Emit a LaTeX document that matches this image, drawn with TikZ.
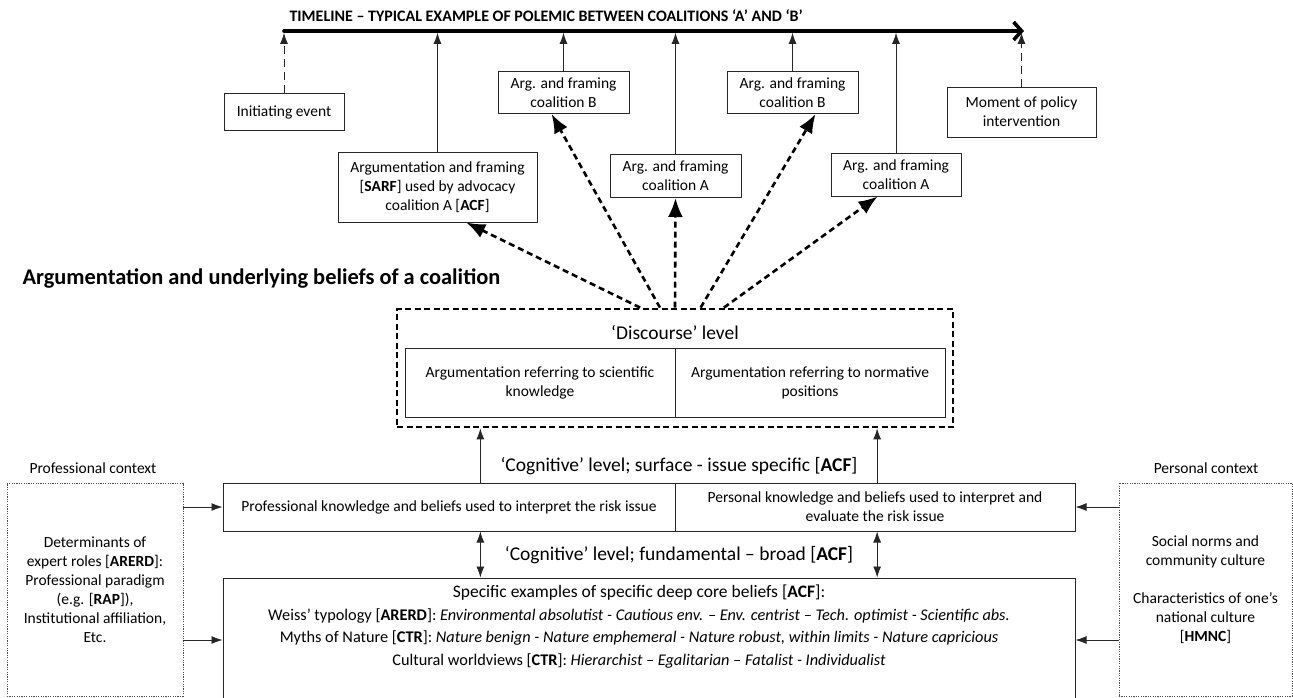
\documentclass[tikz,border=0pt]{standalone}
\usepackage{fontspec}
\setmainfont{Carlito}
\usetikzlibrary{arrows.meta,positioning}

\tikzset{
  box/.style={draw=black!85,line width=1pt,align=center,inner sep=2pt},
  ctxbox/.style={draw=black!70,line width=.8pt,dash pattern=on 1.2pt off 1.2pt,align=center,inner sep=2pt},
  link/.style={draw=black!85,line width=.9pt,-{Latex[length=11pt,width=8pt]}},
  twoway/.style={draw=black!85,line width=.9pt,{Latex[length=11pt,width=8pt]}-{Latex[length=11pt,width=8pt]}},
  fan/.style={line width=2.6pt,dash pattern=on 6pt off 4pt,-{Latex[length=19pt,width=15pt]}},
  lbl/.style={font=\fontsize{19.5}{23}\selectfont},
}

\begin{document}
\begin{tikzpicture}[x=1pt,y=-1pt,font=\fontsize{15.5}{19}\selectfont]
\path[use as bounding box] (0,0) rectangle (1293,697);
\clip (0,0) rectangle (1293,697);

% timeline
\node[anchor=west,font=\bfseries\fontsize{16}{18}\selectfont] (title) at (286,16) {TIMELINE – TYPICAL EXAMPLE OF POLEMIC BETWEEN COALITIONS ‘A’ AND ‘B’};
\coordinate (tl0) at (284,31);
\coordinate (tl1) at (1024,31);
\draw[line width=3.6pt,line cap=round,-{Straight Barb[length=8pt,width=18pt]}] (tl0) -- (tl1);

\node[box,minimum width=120pt,minimum height=37pt] (init) at (284,112) {Initiating event};
\node[box,minimum width=199pt,minimum height=70pt] (sarf) at (437.5,187) {Argumentation and framing\\{}[\textbf{SARF}] used by advocacy\\coalition A [\textbf{ACF}]};
\node[box,minimum width=131pt,minimum height=42pt] (bone) at (563.5,92.5) {Arg. and framing\\coalition B};
\node[box,minimum width=131pt,minimum height=43pt] (aone) at (675.5,176) {Arg. and framing\\coalition A};
\node[box,minimum width=131pt,minimum height=42pt] (btwo) at (792.5,92.5) {Arg. and framing\\coalition B};
\node[box,minimum width=130pt,minimum height=43pt] (atwo) at (896,174.5) {Arg. and framing\\coalition A};
\node[box,minimum width=149pt,minimum height=50pt] (moment) at (1021.5,112) {Moment of policy\\intervention};

\draw[link,dash pattern=on 8pt off 5pt,shorten >=1.8pt] (init) -- (init |- tl0);
\draw[link,shorten >=1.8pt] (sarf) -- (sarf |- tl0);
\draw[link,shorten >=1.8pt] (bone) -- (bone |- tl0);
\draw[link,shorten >=1.8pt] (aone) -- (aone |- tl0);
\draw[link,shorten >=1.8pt] (btwo) -- (btwo |- tl0);
\draw[link,shorten >=1.8pt] (atwo) -- (atwo |- tl0);
\draw[link,dash pattern=on 8pt off 5pt,shorten >=1.8pt] (moment) -- (moment |- tl0);

% coalition
\node[anchor=west,font=\bfseries\fontsize{22.4}{25}\selectfont] (heading) at (19,279) {Argumentation and underlying beliefs of a coalition};

\node[draw,line width=2.8pt,dash pattern=on 6pt off 3.5pt,minimum width=556pt,minimum height=118pt,inner sep=0pt] (disc) at (675,368) {};
\node[lbl] (disclabel) at (675,333) {‘Discourse’ level};
\node[box,minimum width=270pt,minimum height=69pt] (sci) at (540,382.5) {Argumentation referring to scientific\\knowledge};
\node[box,minimum width=270pt,minimum height=69pt] (norm) at (810,382.5) {Argumentation referring to normative\\positions};

\draw[fan] (disc.120.7) -- (sarf.309);
\draw[fan] (disc.104.3) -- (bone.241);
\draw[fan] (disc.north) -- (aone.south);
\draw[fan] (disc.67) -- (btwo.317);
\draw[fan] (disc.51.5) -- (atwo.230);

\node[lbl] (surflabel) at (679,466) {‘Cognitive’ level; surface - issue specific [\textbf{ACF}]};
\node[box,minimum width=452pt,minimum height=48pt] (prof) at (449,507) {Professional knowledge and beliefs used to interpret the risk issue};
\node[box,minimum width=400pt,minimum height=48pt] (pers) at (875,507) {Personal knowledge and beliefs used to interpret and\\evaluate the risk issue};
\draw[link] (prof.38) -- (prof.38 |- disc.south);
\draw[link] (pers.85) -- (pers.85 |- disc.south);

\node[lbl] (broadlabel) at (679,555) {‘Cognitive’ level; fundamental – broad [\textbf{ACF}]};
\node[box,minimum width=852pt,minimum height=124pt] (deep) at (649,640) {};
\node[below=4pt of deep.north,xshift=-10pt,align=center,font=\fontsize{16.3}{22.5}\selectfont] (beliefs) {{\fontsize{17.5}{22.5}\selectfont Specific examples of specific deep core beliefs [\textbf{ACF}]:}\\
Weiss’ typology [\textbf{ARERD}]: \textit{Environmental absolutist - Cautious env. – Env. centrist – Tech. optimist - Scientific abs.}\\
Myths of Nature [\textbf{CTR}]: \textit{Nature benign - Nature emphemeral - Nature robust, within limits - Nature capricious}\\
Cultural worldviews [\textbf{CTR}]: \textit{Hierarchist – Egalitarian – Fatalist - Individualist}};
\draw[twoway] (prof.-38) -- (prof.-38 |- deep.north);
\draw[twoway] (pers.-85) -- (pers.-85 |- deep.north);

% contexts
\node (profhead) at (93,468) {Professional context};
\node[ctxbox,minimum width=176pt,minimum height=213pt] (profctx) at (95,589.5) {Determinants of\\expert roles [\textbf{ARERD}]:\\Professional paradigm\\(e.g. [\textbf{RAP}]),\\Institutional affiliation,\\Etc.};
\node (pershead) at (1206,468) {Personal context};
\node[ctxbox,minimum width=173pt,minimum height=213pt] (persctx) at (1205.5,589.5) {Social norms and\\community culture\\[19pt]Characteristics of one’s\\national culture\\{}[\textbf{HMNC}]};

\draw[link] (profctx.east |- prof.west) -- (prof.west);
\draw[link] (profctx.east |- deep.west) -- (deep.west);
\draw[link] (persctx.west |- pers.east) -- (pers.east);
\draw[link] (persctx.west |- deep.east) -- (deep.east);
\end{tikzpicture}
\end{document}
